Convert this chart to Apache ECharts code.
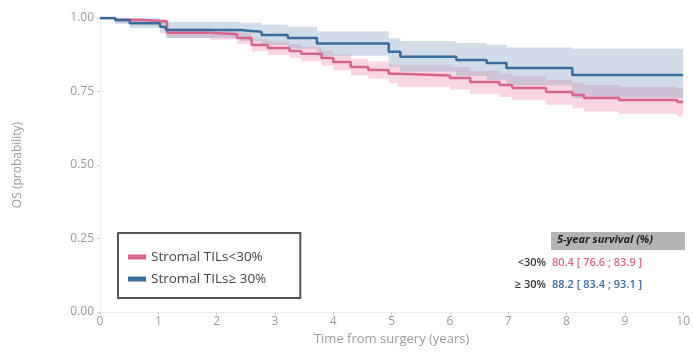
<!DOCTYPE html>
<html><head><meta charset="utf-8">
<script src="https://cdn.jsdelivr.net/npm/echarts@6/dist/echarts.min.js"></script>
<style>html,body{margin:0;padding:0;background:#fff}#c{width:693px;height:352px}</style>
</head><body><div id="c"></div>
<script>
// Group names
const groupNames = ['Stromal TILs<30%', 'Stromal TILs\u2265 30%'];
// Stromal TILs < 30% (pink)
const pinkT  = [0, 0.26, 0.75, 1.15, 1.9, 2.35, 2.6, 2.88, 3.25, 3.45, 3.8, 4.0, 4.3, 4.6, 4.95, 5.1, 6.0, 6.35, 6.85, 7.07, 7.65, 8.1, 8.3, 8.9, 9.9, 10];
const pinkS  = [1, 0.993, 0.988, 0.95, 0.945, 0.932, 0.908, 0.898, 0.888, 0.878, 0.864, 0.85, 0.833, 0.823, 0.81, 0.804, 0.796, 0.782, 0.772, 0.762, 0.748, 0.738, 0.728, 0.721, 0.714, 0.714];
const pinkLo = [1, 0.985, 0.978, 0.932, 0.926, 0.912, 0.886, 0.875, 0.864, 0.853, 0.838, 0.823, 0.805, 0.794, 0.778, 0.766, 0.757, 0.742, 0.731, 0.72, 0.705, 0.693, 0.682, 0.674, 0.665, 0.665];
const pinkHi = [1, 1.0, 0.997, 0.966, 0.962, 0.951, 0.929, 0.92, 0.911, 0.902, 0.889, 0.876, 0.861, 0.852, 0.842, 0.839, 0.833, 0.82, 0.811, 0.802, 0.79, 0.781, 0.772, 0.766, 0.76, 0.76];
// Stromal TILs >= 30% (blue)
const blueT  = [0, 0.26, 0.51, 1.03, 1.13, 2.4, 2.77, 3.22, 3.72, 4.95, 5.15, 6.11, 6.63, 6.97, 8.1, 10];
const blueS  = [1, 0.993, 0.982, 0.97, 0.959, 0.953, 0.942, 0.932, 0.913, 0.885, 0.868, 0.857, 0.847, 0.83, 0.806, 0.806];
const blueLo = [1, 0.98, 0.965, 0.948, 0.932, 0.922, 0.908, 0.895, 0.872, 0.834, 0.818, 0.803, 0.79, 0.77, 0.728, 0.728];
const blueHi = [1, 1.0, 0.999, 0.992, 0.986, 0.984, 0.977, 0.97, 0.955, 0.931, 0.922, 0.915, 0.909, 0.9, 0.895, 0.895];
// Table
const tableHeader = '5-year survival (%)';
const tableRowLabels = ['<30%', '\u2265 30%'];
const tableRowValues = ['80.4 [ 76.6 ; 83.9 ]', '88.2 [ 83.4 ; 93.1 ]'];

const PINK = '#d9638f', BLUE = '#3b6b9b';
const FONT = 'Open Sans';
const pair = (t, v) => t.map((x, i) => [x, v[i]]);

const bands = [
  { t: pinkT, lo: pinkLo, hi: pinkHi, fill: 'rgba(242,150,185,0.40)' },
  { t: blueT, lo: blueLo, hi: blueHi, fill: 'rgba(135,162,190,0.38)' }
];

function bandRender(params, api) {
  const b = bands[api.value(2)];
  const pts = [];
  for (let i = 0; i < b.t.length; i++) {
    const tNext = i + 1 < b.t.length ? b.t[i + 1] : b.t[i];
    pts.push(api.coord([b.t[i], b.hi[i]]));
    pts.push(api.coord([tNext, b.hi[i]]));
  }
  for (let i = b.t.length - 1; i >= 0; i--) {
    const tNext = i + 1 < b.t.length ? b.t[i + 1] : b.t[i];
    pts.push(api.coord([tNext, b.lo[i]]));
    pts.push(api.coord([b.t[i], b.lo[i]]));
  }
  return { type: 'polygon', shape: { points: pts }, style: { fill: b.fill }, silent: true };
}

const chart = echarts.init(document.getElementById('c'), null, { renderer: 'canvas' });
chart.setOption({
  animation: false,
  textStyle: { fontFamily: FONT },
  grid: { left: 100, right: 9, top: 18, bottom: 40 },
  xAxis: {
    type: 'value', min: 0, max: 10, interval: 1,
    name: 'Time from surgery (years)', nameLocation: 'middle', nameGap: 19,
    nameTextStyle: { color: '#999', fontSize: 13, fontFamily: FONT },
    axisLine: { show: true, lineStyle: { color: '#eee' } },
    axisTick: { show: true, length: 3, lineStyle: { color: '#ccc' } },
    axisLabel: { color: '#999', fontSize: 12, margin: 4 },
    splitLine: { show: false }
  },
  yAxis: {
    type: 'value', min: 0, max: 1, interval: 0.25,
    name: 'OS (probability)', nameLocation: 'middle', nameGap: 76, nameRotate: 90,
    nameTextStyle: { color: '#999', fontSize: 12, fontFamily: FONT },
    axisLine: { show: true, lineStyle: { color: '#eee' } },
    axisTick: { show: true, length: 3, lineStyle: { color: '#ccc' } },
    axisLabel: { color: '#999', fontSize: 12, margin: 6, formatter: v => v.toFixed(2) },
    splitLine: { show: false }
  },
  legend: {
    data: groupNames, orient: 'vertical', left: 118, top: 233,
    padding: [17, 34, 12, 10], itemGap: 8,
    borderColor: '#555', borderWidth: 2, backgroundColor: '#fff',
    itemWidth: 18, itemHeight: 5, icon: 'rect',
    textStyle: { color: '#444', fontSize: 13.5, fontFamily: FONT }
  },
  series: [
    { name: 'bands', type: 'custom', renderItem: bandRender, data: [[0, 1, 0], [10, 0, 1]],
      encode: { x: 0, y: 1 }, silent: true, z: 1 },
    { name: groupNames[0], type: 'line', step: 'end', data: pair(pinkT, pinkS), symbol: 'none',
      itemStyle: { color: PINK }, lineStyle: { color: PINK, width: 2.5 }, z: 3 },
    { name: groupNames[1], type: 'line', step: 'end', data: pair(blueT, blueS), symbol: 'none',
      itemStyle: { color: BLUE }, lineStyle: { color: BLUE, width: 2.5 }, z: 4 }
  ],
  graphic: [
    { type: 'rect', left: 551, top: 232, shape: { width: 134, height: 18 }, style: { fill: '#b4b4b4' } },
    { type: 'text', left: 557, top: 234, style: { text: tableHeader, fill: '#222', font: 'italic bold 11px "Open Sans"' } },
    { type: 'text', right: 693 - 546, top: 257, style: { text: tableRowLabels[0], fill: '#333', font: '600 11px "Open Sans"', textAlign: 'right' } },
    { type: 'text', right: 693 - 546, top: 279, style: { text: tableRowLabels[1], fill: '#333', font: '600 11px "Open Sans"', textAlign: 'right' } },
    { type: 'text', left: 552, top: 257, style: { text: tableRowValues[0], fill: PINK, font: '600 11px "Open Sans"' } },
    { type: 'text', left: 552, top: 279, style: { text: tableRowValues[1], fill: BLUE, font: '600 11px "Open Sans"' } }
  ]
});
</script></body></html>
